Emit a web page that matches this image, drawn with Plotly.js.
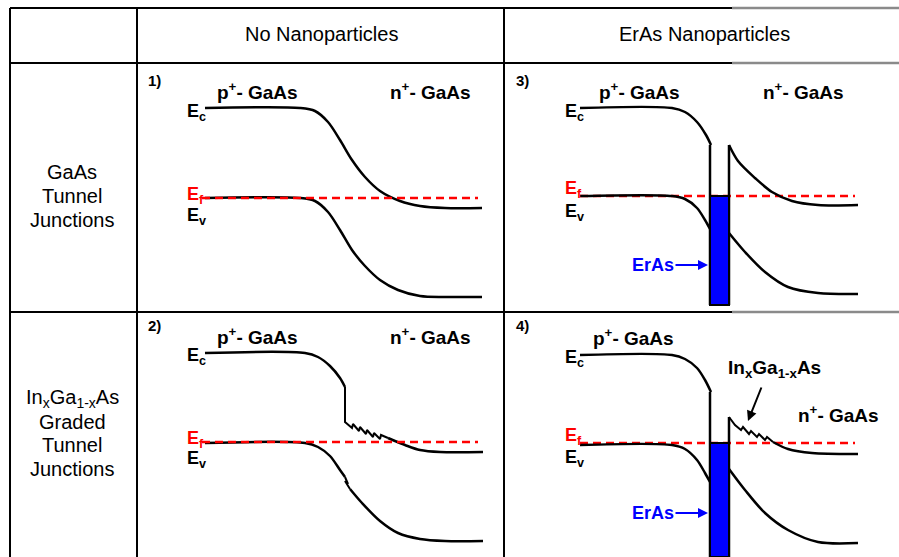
<!DOCTYPE html>
<html><head><meta charset="utf-8">
<script src="https://cdn.plot.ly/plotly-3.0.1.min.js"></script>
<style>body{margin:0;background:#fff}#chart{width:899px;height:557px}</style>
</head><body><div id="chart"></div>
<script>
// ---- table grid ----
const gridH_y = [8, 63, 312];
const gridV_x = [10, 137, 504];
// ---- headers / row labels ----
const colHeads = ['No Nanoparticles', 'ErAs Nanoparticles'];
const row1Lines = ['GaAs', 'Tunnel', 'Junctions'];
const row2Lines = ['In<sub>x</sub>Ga<sub>1-x</sub>As', 'Graded', 'Tunnel', 'Junctions'];
// ---- panel 1 : GaAs, no nanoparticles ----
const p1EcX = [205, 300, 315, 328, 340, 352, 365, 380, 400, 420, 445, 482];
const p1EcY = [108, 108, 111, 122, 140, 160, 177, 191, 201, 206, 208, 208];
const p1EvX = [205, 300, 315, 328, 340, 352, 365, 380, 398, 420, 445, 482];
const p1EvY = [198, 198, 201, 212, 230, 250, 266, 280, 290, 296, 297, 297];
const p1EfX = [202, 478]; const p1EfY = [198, 198];
// ---- panel 2 : graded, no nanoparticles ----
const p2EcX = [205, 305, 318, 330, 340, 345];
const p2EcY = [353, 353, 357, 366, 378, 387];
const p2SawX = [345, 345, 352, 353, 359, 360, 366, 367, 373, 374, 380, 381, 388];
const p2SawY = [387, 422, 428, 424, 431, 427, 434, 430, 437, 433, 439, 435, 438];
const p2EcTailX = [388, 395, 405, 420, 440, 483];
const p2EcTailY = [438, 441, 445, 450, 452, 452];
const p2EvX = [205, 305, 318, 330, 340, 345];
const p2EvY = [443, 443, 447, 456, 470, 477];
const p2KinkX = [345, 348, 345, 350];
const p2KinkY = [477, 484, 481, 489];
const p2EvTailX = [350, 362, 380, 398, 420, 445, 483];
const p2EvTailY = [489, 503, 521, 533, 539, 541, 541];
const p2EfX = [202, 478]; const p2EfY = [442, 442];
// ---- panel 3 : GaAs with ErAs ----
const p3EcLX = [580, 672, 685, 697, 706, 711];
const p3EcLY = [108, 108, 112, 122, 135, 145];
const p3EcRX = [729, 738, 755, 772, 792, 818, 858];
const p3EcRY = [145, 161, 178, 192, 201, 205, 205];
const p3EvLX = [580, 672, 685, 697, 705, 710];
const p3EvLY = [196, 196, 199, 208, 220, 229];
const p3EvRX = [729, 745, 765, 788, 818, 858];
const p3EvRY = [233, 252, 272, 287, 293, 294];
const p3EfX = [580, 855]; const p3EfY = [196, 196];
const p3Box = {x0: 710, x1: 729, y0: 196, y1: 305};
// ---- panel 4 : graded with ErAs ----
const p4EcLX = [580, 672, 685, 697, 705, 711];
const p4EcLY = [355, 355, 359, 368, 380, 392];
const p4SawX = [729, 735, 741, 743, 749, 751, 757, 759, 765, 767, 773];
const p4SawY = [417, 425, 430, 427, 434, 431, 437, 434, 440, 437, 442];
const p4EcTailX = [773, 788, 812, 858];
const p4EcTailY = [442, 449, 453, 454];
const p4EvLX = [580, 672, 685, 697, 705, 710];
const p4EvLY = [445, 445, 449, 460, 473, 482];
const p4EvRX = [729, 745, 765, 788, 818, 858];
const p4EvRY = [469, 490, 513, 530, 542, 543];
const p4EfX = [580, 855]; const p4EfY = [443, 443];
const p4Box = {x0: 710, x1: 729, y0: 443, y1: 557};

const BLK = '#000', RED = '#ff0000', BLUE = '#0000ff';
const FONT = 'Liberation Sans, Arial, sans-serif';
const traces = [];
function line(x, y, shape, color, dash, w) {
  traces.push({x: x, y: y, mode: 'lines', type: 'scatter', hoverinfo: 'skip',
    line: {color: color || BLK, width: w || 2.5, shape: shape || 'spline', smoothing: 0.9, dash: dash || 'solid'}});
}
function ef(x, y) { line(x, y, 'linear', RED, '8px,5px', 2.5); }

line(p1EcX, p1EcY); line(p1EvX, p1EvY); ef(p1EfX, p1EfY);
line(p2EcX, p2EcY); line(p2SawX, p2SawY, 'linear', BLK, 'solid', 2); line(p2EcTailX, p2EcTailY);
line(p2EvX, p2EvY); line(p2KinkX, p2KinkY, 'linear', BLK, 'solid', 2); line(p2EvTailX, p2EvTailY);
ef(p2EfX, p2EfY);
ef(p3EfX, p3EfY);
line(p3EcLX, p3EcLY); line(p3EcRX, p3EcRY); line(p3EvLX, p3EvLY); line(p3EvRX, p3EvRY);
ef(p4EfX, p4EfY);
line(p4EcLX, p4EcLY); line(p4SawX, p4SawY, 'linear', BLK, 'solid', 2); line(p4EcTailX, p4EcTailY);
line(p4EvLX, p4EvLY); line(p4EvRX, p4EvRY);
// verticals of the ErAs layer
line([p3Box.x0, p3Box.x0], [p3EcLY[p3EcLY.length-1], p3Box.y1], 'linear');
line([p3Box.x1, p3Box.x1], [p3EcRY[0], p3Box.y1], 'linear');
line([p4Box.x0, p4Box.x0], [p4EcLY[p4EcLY.length-1], p4Box.y1], 'linear');
line([p4Box.x1, p4Box.x1], [p4SawY[0], p4Box.y1], 'linear');

const shapes = [];
gridH_y.forEach(y => {
  shapes.push({type: 'line', x0: 10, x1: 732, y0: y, y1: y, line: {color: '#000', width: 2}});
  shapes.push({type: 'line', x0: 732, x1: 899, y0: y, y1: y, line: {color: '#8a8a8a', width: 2.5}});
});
gridV_x.forEach(x => shapes.push({type: 'line', x0: x, x1: x, y0: 8, y1: 557, line: {color: '#000', width: 2}}));
[p3Box, p4Box].forEach(b => shapes.push({type: 'rect', x0: b.x0, x1: b.x1, y0: b.y0, y1: b.y1,
  fillcolor: BLUE, line: {color: '#000', width: 2}, layer: 'above'}));

const ann = [];
function txt(x, y, t, size, opts) {
  ann.push(Object.assign({x: x, y: y, text: t, showarrow: false, xanchor: 'left', yanchor: 'middle',
    font: {family: FONT, size: size, color: BLK}}, opts || {}));
}
const B = s => '<b>' + s + '</b>';
// headers
txt(321, 34, colHeads[0], 20, {xanchor: 'center'});
txt(704, 34, colHeads[1], 20, {xanchor: 'center'});
row1Lines.forEach((t, i) => txt(72, 172 + 24 * i, t, 20, {xanchor: 'center'}));
row2Lines.forEach((t, i) => txt(72, 398 + 23.7 * i, t, 20, {xanchor: 'center'}));
// panel numbers
txt(146, 80, B('1)'), 15); txt(146, 325, B('2)'), 15);
txt(514, 80, B('3)'), 15); txt(514, 325, B('4)'), 15);
// region labels
const pG = B('p<sup>+</sup>- GaAs'), nG = B('n<sup>+</sup>- GaAs');
txt(215, 91, pG, 19); txt(388, 91, nG, 19);
txt(215, 336, pG, 19); txt(388, 336, nG, 19);
txt(597, 91, pG, 19); txt(761, 91, nG, 19);
txt(591, 337, pG, 19); txt(796, 414, nG, 19);
txt(726, 369, B('In<sub>x</sub>Ga<sub>1-x</sub>As'), 19);
// band labels
function bands(x, yc, yf, yv) {
  txt(x, yc, B('E<sub>c</sub>'), 18);
  txt(x, yf, B('E<sub>f</sub>'), 18, {font: {family: FONT, size: 18, color: RED}});
  txt(x, yv, B('E<sub>v</sub>'), 18);
}
bands(185, 112, 195, 216); bands(185, 356, 439, 459);
bands(563, 112, 189, 212); bands(563, 358, 436, 458);
// ErAs arrows
[[265], [513]].forEach(([y]) => ann.push({x: 708, y: y, ax: 653, ay: y, axref: 'x', ayref: 'y', xref: 'x', yref: 'y',
  text: B('ErAs'), showarrow: true, arrowhead: 2, arrowsize: 1, arrowwidth: 2, arrowcolor: BLUE,
  font: {family: FONT, size: 18, color: BLUE}}));
ann.push({x: 748, y: 421, ax: 762, ay: 386, axref: 'x', ayref: 'y', text: '', showarrow: true,
  arrowhead: 2, arrowsize: 1, arrowwidth: 2, arrowcolor: BLK});

Plotly.newPlot('chart', traces, {
  width: 899, height: 557, margin: {l: 0, r: 0, t: 0, b: 0}, showlegend: false,
  paper_bgcolor: '#fff', plot_bgcolor: '#fff',
  xaxis: {range: [0, 899], visible: false, fixedrange: true},
  yaxis: {range: [557, 0], visible: false, fixedrange: true},
  shapes: shapes, annotations: ann
}, {displayModeBar: false, staticPlot: true});
</script></body></html>
